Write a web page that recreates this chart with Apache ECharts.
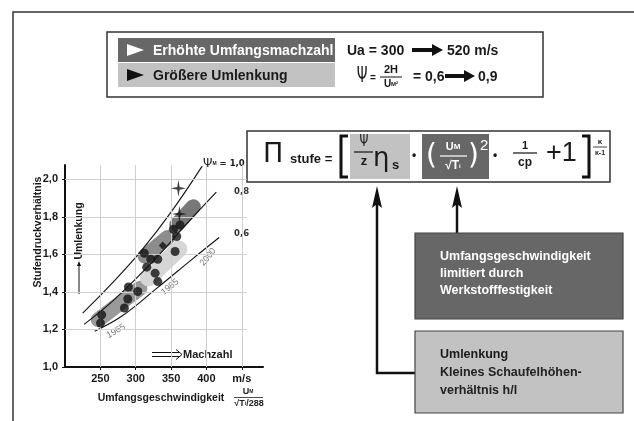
<!DOCTYPE html>
<html>
<head>
<meta charset="utf-8">
<script src="https://cdn.jsdelivr.net/npm/echarts@6/dist/echarts.min.js"></script>
<style>
  html, body { margin: 0; padding: 0; background: #fff; }
  #chart { width: 634px; height: 421px; }
</style>
</head>
<body>
<div id="chart"></div>
<script>
// Axis ticks
const xTicks = [250, 300, 350, 400];
const yTicks = [1.0, 1.2, 1.4, 1.6, 1.8, 2.0];

// Lines of constant loading coefficient psi_M
const psi10 = [[225, 1.287], [265, 1.44], [308, 1.62], [350, 1.825], [394, 2.07]];
const psi08 = [[227, 1.227], [270, 1.36], [330, 1.585], [370, 1.755], [414, 1.932]];
const psi06 = [[242, 1.191], [280, 1.27], [330, 1.42], [380, 1.575], [418, 1.69]];

// Technology bands by design year
const band1965 = [[247, 1.252], [306, 1.42]];
const band1985Light = [[318, 1.475], [361, 1.628]];
const band1985Dark = [[313, 1.59], [345, 1.69]];
const band2000 = [[358, 1.757], [381.5, 1.854]];

// Individual compressor stages
const stages = [
  [251.9, 1.278], [250.2, 1.234], [284.0, 1.314], [289.7, 1.426], [288.8, 1.362],
  [302.9, 1.402], [312.2, 1.606], [315.6, 1.532], [321.3, 1.574], [331.2, 1.574],
  [327.4, 1.500], [331.2, 1.455], [353.3, 1.734], [358.0, 1.695], [362.7, 1.757],
  [355.7, 1.615]
];
const diamondStage = [[338.2, 1.647]];
const starStages = [[360.4, 1.952], [361.8, 1.815]];

const FONT = 'Liberation Sans, Arial, sans-serif';
const chart = echarts.init(document.getElementById('chart'));

function band(data, color, width) {
  return {
    type: 'line', data: data, symbol: 'none', silent: true, z: 1,
    lineStyle: { color: color, width: width, cap: 'round' }
  };
}
function curve(data) {
  return {
    type: 'line', data: data, symbol: 'none', smooth: 0.4, silent: true, z: 3,
    lineStyle: { color: '#111', width: 1.1 }
  };
}

const gridV = xTicks.concat([450]).map(v => [{ coord: [v, 1.0] }, { coord: [v, 2.076] }]);
const gridH = yTicks.slice(1).map(v => [{ coord: [200, v] }, { coord: [457, v] }]);

const T = (x, y, text, style, extra) => Object.assign({
  type: 'text', x: x, y: y, silent: true,
  style: Object.assign({ text: text, font: 'bold 13px ' + FONT, fill: '#1a1a1a', textVerticalAlign: 'middle' }, style || {})
}, extra || {});
const R = (x, y, w, h, fill, stroke, lw) => ({
  type: 'rect', silent: true, shape: { x: x, y: y, width: w, height: h },
  style: { fill: fill, stroke: stroke || null, lineWidth: lw || 0 }
});
const L = (pts, w, color) => ({
  type: 'polyline', silent: true, shape: { points: pts },
  style: { stroke: color || '#111', lineWidth: w, fill: null }
});
const P = (pts, color) => ({
  type: 'polygon', silent: true, shape: { points: pts },
  style: { fill: color || '#111' }
});
const fatArrow = (x0, x1, y) => P([[x0, y - 2], [x1 - 11, y - 2], [x1 - 11, y - 6], [x1, y], [x1 - 11, y + 6], [x1 - 11, y + 2], [x0, y + 2]]);
const rot = (x, y, deg, text, style) => ({
  type: 'text', x: x, y: y, rotation: deg * Math.PI / 180, silent: true,
  style: Object.assign({ text: text, textAlign: 'center', textVerticalAlign: 'middle' }, style)
});

const graphic = [
  // frame
  L([[13, 421], [13, 12], [634, 12]], 1.5, '#333'),

  // summary box
  R(107, 32, 436, 65, '#fff', '#333', 1.5),
  R(118, 38, 217, 24, '#676767'),
  R(118, 63, 217, 24, '#c2c2c2'),
  P([[127, 44], [144, 50], [127, 56]], '#fff'),
  P([[127, 69], [144, 75], [127, 81]], '#111'),
  T(153, 51, 'Erhöhte Umfangsmachzahl', { fill: '#fff', font: 'bold 14px ' + FONT }),
  T(153, 76, 'Größere Umlenkung', { font: 'bold 14px ' + FONT }),
  T(347, 51, 'Ua = 300', { font: 'bold 14px ' + FONT }),
  fatArrow(412, 443, 50),
  T(447, 51, '520 m/s', { font: 'bold 14px ' + FONT }),
  T(362, 76, 'Ψ', { font: '22px DejaVu Sans, sans-serif', textAlign: 'center' }, { scaleX: 0.62 }),
  T(370, 78, '=', { font: 'bold 10px ' + FONT }),
  T(391, 70, '2H', { font: 'bold 11px ' + FONT, textAlign: 'center' }),
  L([[380, 77], [402, 77]], 1, '#111'),
  T(391, 84, '{a|U}{b|M²}', { textAlign: 'center', rich: { a: { font: 'bold 10px ' + FONT, fill: '#111' }, b: { font: 'bold 6px ' + FONT, fill: '#111' } } }),
  T(413, 77, '= 0,6', { font: 'bold 14px ' + FONT }),
  fatArrow(445, 475, 76),
  T(478, 77, '0,9', { font: 'bold 14px ' + FONT }),

  // stage pressure ratio formula
  R(247, 131, 363, 51, '#fff', '#333', 1.5),
  T(263, 155, 'Π', { font: '27px DejaVu Sans, sans-serif' }),
  T(290, 159, 'stufe =', { font: 'bold 13px ' + FONT }),
  L([[348, 136], [341, 136], [341, 177], [348, 177]], 3),
  R(350, 134, 60, 45, '#c2c2c2'),
  T(364, 142, 'Ψ', { font: '15px DejaVu Sans, sans-serif', textAlign: 'center' }, { scaleX: 0.75 }),
  L([[354, 152], [373, 152]], 1.2, '#111'),
  T(364, 161, 'z', { font: 'bold 13px ' + FONT, textAlign: 'center' }),
  T(373, 159, 'η', { font: '26px DejaVu Sans, sans-serif' }),
  T(392, 165, 's', { font: 'bold 13px ' + FONT }),
  T(412, 156, '•', { font: 'bold 12px ' + FONT }),
  R(422, 134, 67, 45, '#676767'),
  T(426, 157, '(', { font: '28px DejaVu Sans, sans-serif', fill: '#fff' }),
  T(453, 147, '{a|U}{b|M}', { textAlign: 'center', rich: { a: { font: 'bold 11px ' + FONT, fill: '#fff' }, b: { font: 'bold 8px ' + FONT, fill: '#fff' } } }),
  L([[440, 156], [467, 156]], 1.2, '#fff'),
  T(453, 166, '{a|√T}{b|i}', { textAlign: 'center', rich: { a: { font: 'bold 12px ' + FONT, fill: '#fff' }, b: { font: 'bold 6px ' + FONT, fill: '#fff' } } }),
  T(468, 157, ')', { font: '28px DejaVu Sans, sans-serif', fill: '#fff' }),
  T(480, 146, '2', { font: '15px ' + FONT, fill: '#fff' }),
  T(493, 156, '•', { font: 'bold 12px ' + FONT }),
  T(525, 146, '1', { font: 'bold 11px ' + FONT, textAlign: 'center' }),
  L([[513, 153], [537, 153]], 1.2, '#111'),
  T(525, 163, 'cp', { font: 'bold 12px ' + FONT, textAlign: 'center' }),
  T(546, 154, '+1', { font: '27px ' + FONT }),
  L([[582, 136], [589, 136], [589, 177], [582, 177]], 3),
  T(600, 142, 'κ', { font: 'bold 8px ' + FONT, textAlign: 'center' }),
  L([[593, 147], [607, 147]], 0.8, '#111'),
  T(600, 153, 'κ-1', { font: 'bold 7px ' + FONT, textAlign: 'center' }),

  // arrows from formula
  L([[415, 373], [377, 373], [377, 200]], 2.5),
  P([[377, 186], [382, 208], [377, 204], [372, 208]]),
  L([[457, 233], [457, 200]], 2.5),
  P([[457, 186], [462, 208], [457, 204], [452, 208]]),

  // explanation boxes
  R(415, 233, 208, 86, '#676767', '#444', 1.2),
  T(440, 257, 'Umfangsgeschwindigkeit', { fill: '#fff', font: 'bold 12.5px ' + FONT }),
  T(440, 274, 'limitiert durch', { fill: '#fff', font: 'bold 12.5px ' + FONT }),
  T(440, 291, 'Werkstofffestigkeit', { fill: '#fff', font: 'bold 12.5px ' + FONT }),
  R(415, 331, 208, 82, '#c2c2c2', '#444', 1.2),
  T(440, 355, 'Umlenkung', { font: 'bold 12.5px ' + FONT }),
  T(440, 373, 'Kleines Schaufelhöhen-', { font: 'bold 12.5px ' + FONT, fill: '#222' }),
  T(440, 391, 'verhältnis h/l', { font: 'bold 12.5px ' + FONT, fill: '#222' }),

  // axis titles and annotations of the diagram
  rot(38, 232, 90, 'Stufendruckverhältnis', { font: 'bold 10.5px ' + FONT, fill: '#1a1a1a' }),
  rot(79, 231, 90, 'Umlenkung', { font: 'bold 10.5px ' + FONT, fill: '#1a1a1a' }),
  L([[79, 294], [79, 265]], 1, '#111'),
  P([[79, 261], [81, 266], [77, 266]]),
  L([[152, 352.5], [179, 352.5]], 1, '#111'),
  L([[152, 356.5], [179, 356.5]], 1, '#111'),
  L([[176, 349.5], [182, 354.5], [176, 359.5]], 1, '#111'),
  T(183, 355, 'Machzahl', { font: 'bold 11px ' + FONT }),
  T(161, 398, 'Umfangsgeschwindigkeit', { font: 'bold 10.5px ' + FONT, textAlign: 'center' }),
  T(248, 392, '{a|U}{b|M}', { textAlign: 'center', rich: { a: { font: 'bold 9px ' + FONT, fill: '#222' }, b: { font: 'bold 5px ' + FONT, fill: '#222' } } }),
  L([[234, 397.5], [263, 397.5]], 0.8, '#222'),
  T(249, 404, '{a|√T}{b|i}{a|/288}', { textAlign: 'center', rich: { a: { font: 'bold 9px ' + FONT, fill: '#222' }, b: { font: 'bold 5px ' + FONT, fill: '#222' } } }),

  // curve labels
  T(203, 164, '{a|Ψ}{b|M}{c| = 1,0}', { rich: { a: { font: '12px DejaVu Sans, sans-serif', fill: '#222' }, b: { font: 'bold 5px ' + FONT, fill: '#222' }, c: { font: 'bold 8.5px DejaVu Sans, sans-serif', fill: '#222' } } }),
  T(234, 192, '0,8', { font: 'bold 8.5px DejaVu Sans, sans-serif', fill: '#333' }),
  T(234, 234, '0,6', { font: 'bold 8.5px DejaVu Sans, sans-serif', fill: '#333' }),
  rot(208, 257, 50, '2000', { font: '9px ' + FONT, fill: '#777' }),
  rot(170, 287, 40, '1985', { font: '9px ' + FONT, fill: '#777' }),
  rot(116, 331, 30, '1965', { font: '9px ' + FONT, fill: '#777' })
];

const option = {
  animation: false,
  backgroundColor: '#fff',
  grid: { left: 65, right: 371, top: 165, bottom: 54 },
  xAxis: {
    type: 'value', min: 200, max: 480, interval: 50,
    axisLine: { lineStyle: { color: '#111', width: 2 } },
    axisTick: { length: 3, lineStyle: { color: '#111' } },
    splitLine: { show: false },
    axisLabel: {
      margin: 6, color: '#1a1a1a', fontFamily: FONT, fontWeight: 'bold', fontSize: 11,
      showMinLabel: false, showMaxLabel: false,
      formatter: v => (v === 450 ? 'm/s' : (xTicks.indexOf(v) >= 0 ? String(v) : ''))
    }
  },
  yAxis: {
    type: 'value', min: 1.0, max: 2.076, interval: 0.2,
    axisLine: { show: true, lineStyle: { color: '#111', width: 2 } },
    axisTick: { show: true, length: 3, lineStyle: { color: '#111' } },
    splitLine: { show: false },
    axisLabel: {
      margin: 7, color: '#1a1a1a', fontFamily: FONT, fontWeight: 'bold', fontSize: 11,
      showMaxLabel: false,
      formatter: v => (yTicks.some(t => Math.abs(t - v) < 1e-6) ? v.toFixed(1).replace('.', ',') : '')
    }
  },
  series: [
    {
      type: 'line', data: [], silent: true, z: 0,
      markLine: {
        silent: true, symbol: 'none', label: { show: false },
        lineStyle: { color: '#cfcfcf', width: 1, type: 'solid' },
        data: gridV.concat(gridH)
      }
    },
    band(band1965, '#9a9a9a', 15),
    band(band1985Light, '#d6d6d6', 17),
    band(band1985Dark, '#8c8c8c', 15),
    band(band2000, '#787878', 15),
    curve(psi10),
    curve(psi08),
    curve(psi06),
    {
      type: 'scatter', data: stages, symbol: 'circle', symbolSize: 9, z: 5,
      itemStyle: { color: '#111' }
    },
    {
      type: 'scatter', data: diamondStage, symbol: 'diamond', symbolSize: 8, z: 5,
      itemStyle: { color: '#111' }
    },
    {
      type: 'scatter', data: starStages, z: 6,
      symbol: 'path://M0,-10 L1.6,-1.6 L10,0 L1.6,1.6 L0,10 L-1.6,1.6 L-10,0 L-1.6,-1.6 Z',
      symbolSize: [15, 17], itemStyle: { color: '#111' }
    }
  ],
  graphic: graphic
};
chart.setOption(option);
</script>
</body>
</html>
